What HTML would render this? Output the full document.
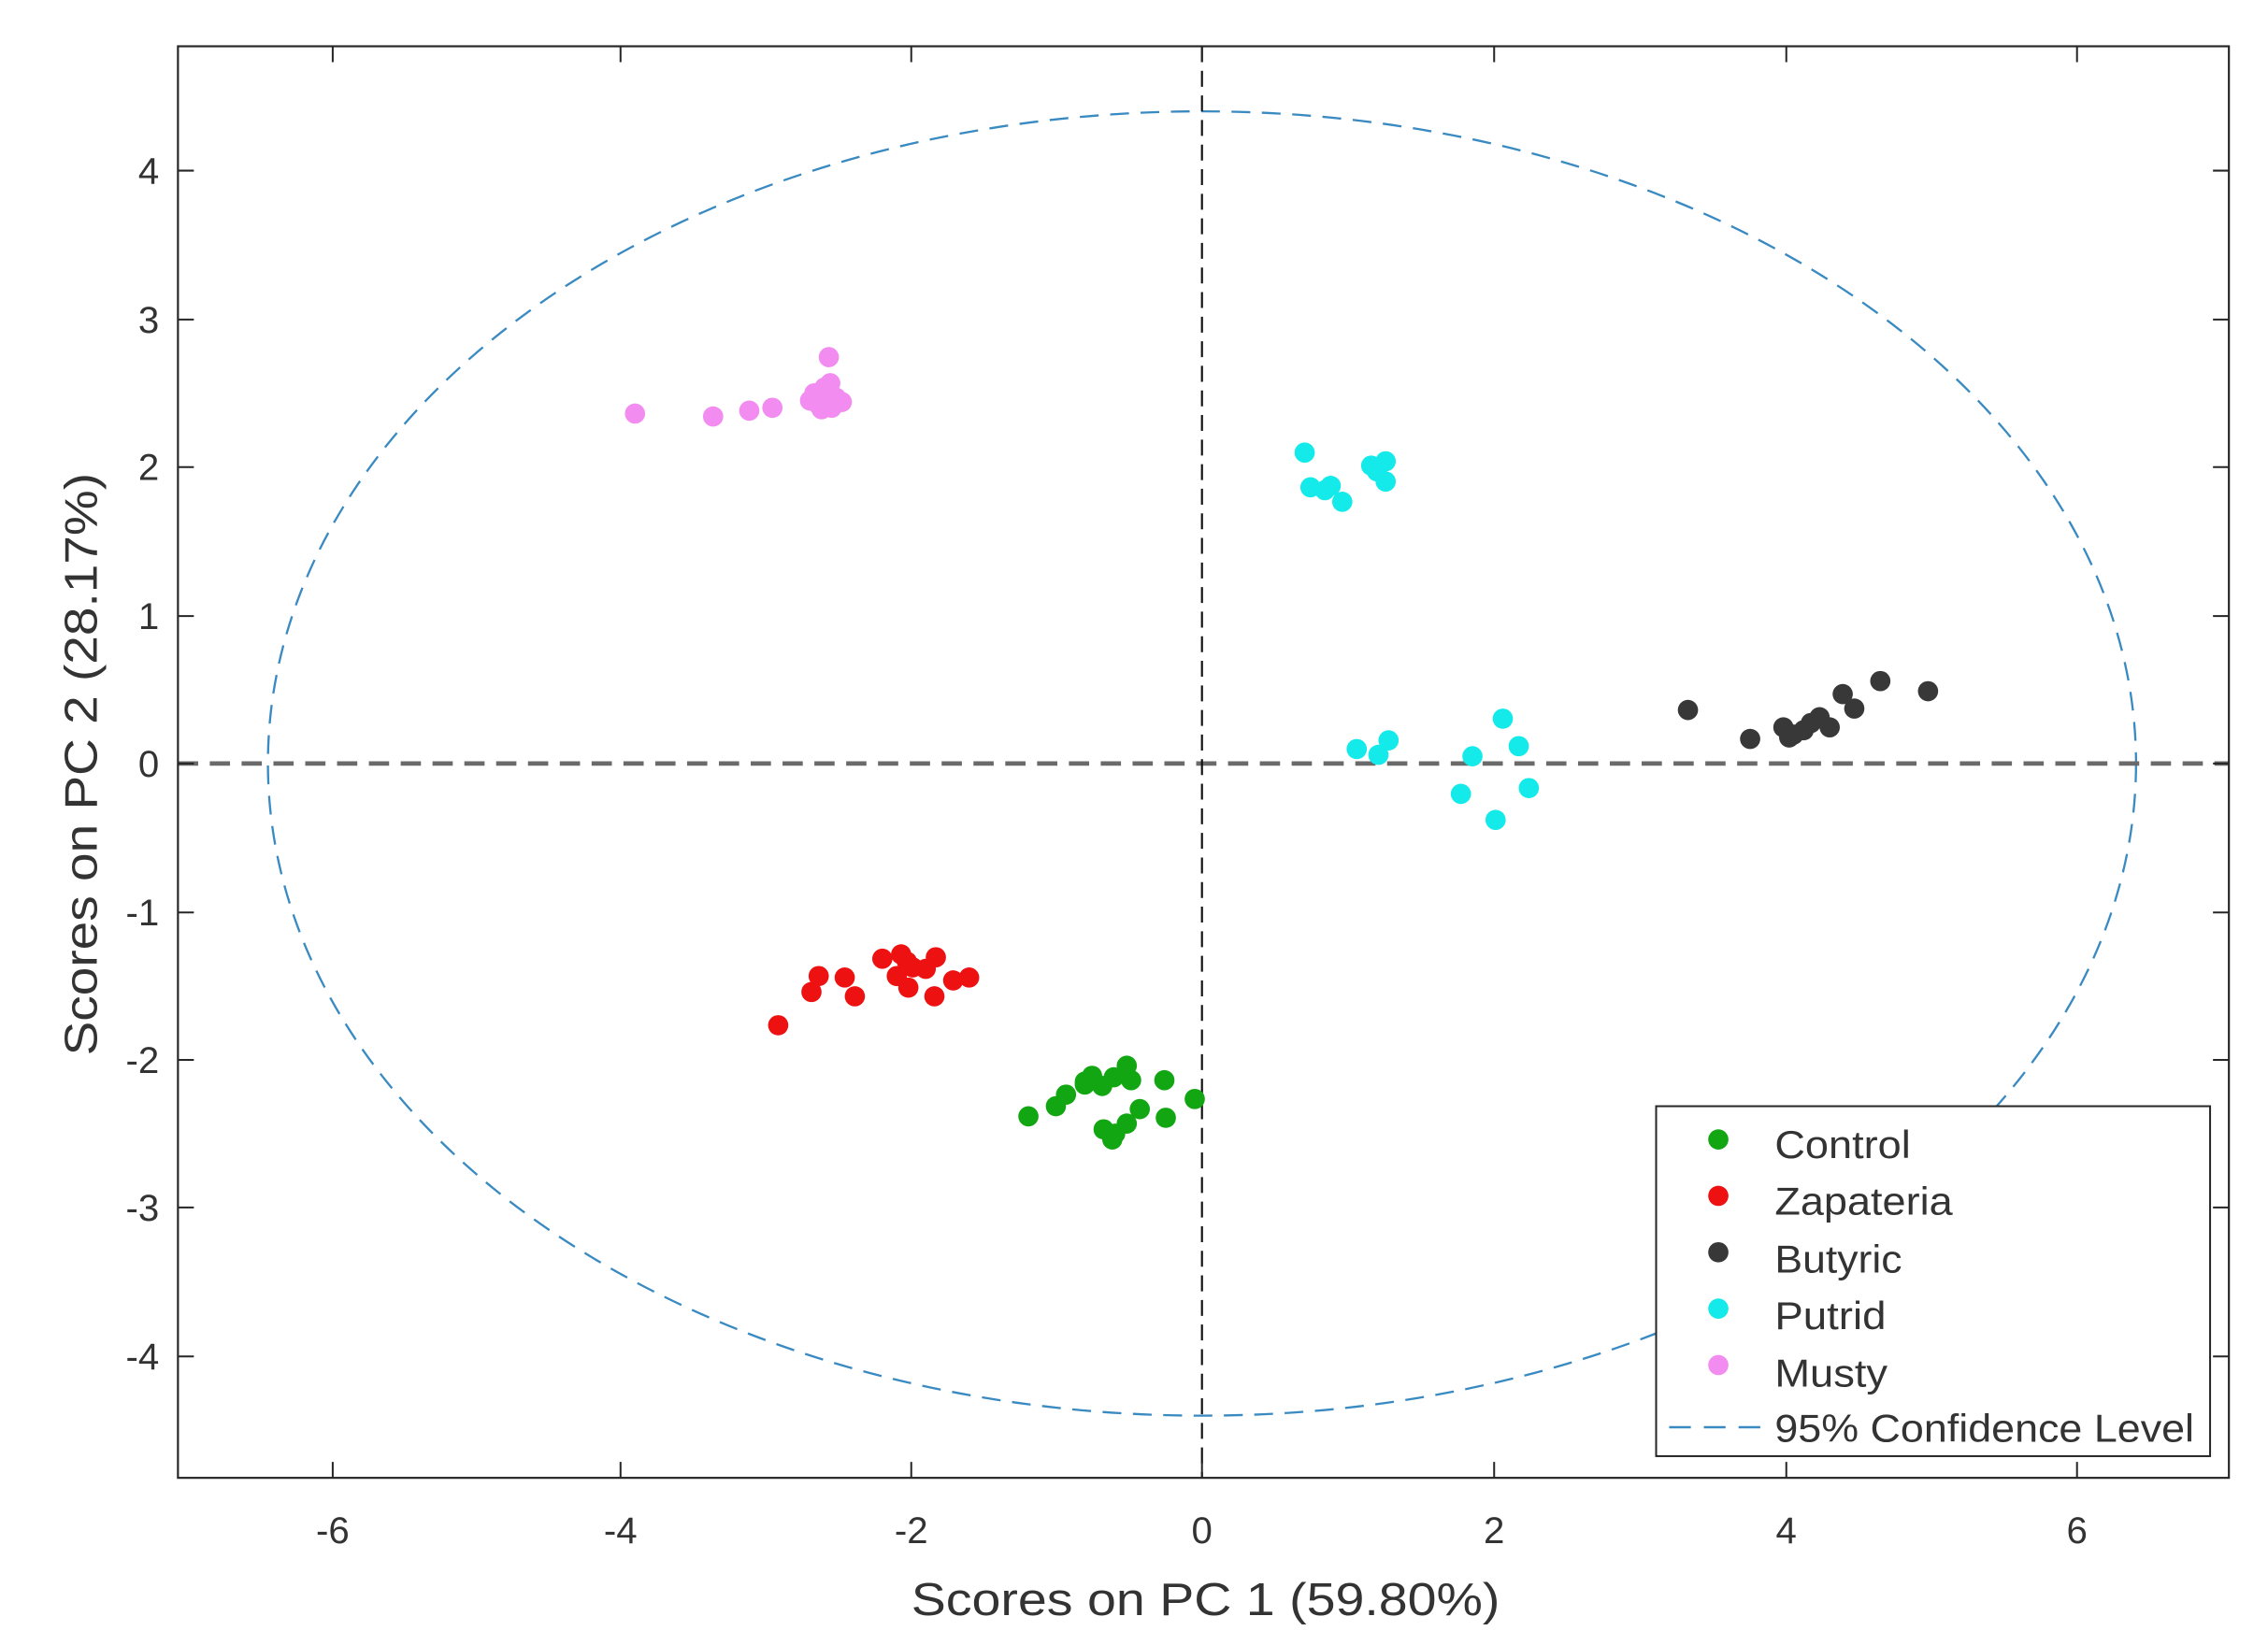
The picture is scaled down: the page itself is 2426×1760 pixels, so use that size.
<!DOCTYPE html>
<html><head><meta charset="utf-8"><style>html,body{margin:0;padding:0;background:#fff}svg{display:block}</style></head>
<body>
<svg width="2426" height="1760" viewBox="0 0 1568 1137.6" xmlns="http://www.w3.org/2000/svg" font-family="Liberation Sans, Arial, sans-serif">
<rect width="1568" height="1137.6" fill="#fff"/>
<ellipse cx="831" cy="528" rx="645.8" ry="451" fill="none" stroke="#3a8ac2" stroke-width="1.5" stroke-dasharray="13 8"/>
<line x1="123" y1="528" x2="1541" y2="528" stroke="#6a6a6a" stroke-width="3" stroke-dasharray="14 8"/>
<line x1="831" y1="32" x2="831" y2="1022" stroke="#111" stroke-width="1.4" stroke-dasharray="11 6"/>
<g fill="#f28cf0">
<circle cx="439" cy="286" r="7"/><circle cx="493" cy="288" r="7"/><circle cx="518" cy="284" r="7"/><circle cx="534" cy="282" r="7"/><circle cx="573" cy="247" r="7"/><circle cx="563" cy="272" r="7"/><circle cx="570" cy="268" r="7"/><circle cx="578" cy="275" r="7"/><circle cx="566" cy="280" r="7"/><circle cx="582" cy="278" r="7"/><circle cx="560" cy="277" r="7"/><circle cx="575" cy="282" r="7"/><circle cx="568" cy="283" r="7"/><circle cx="574" cy="265" r="7"/>
</g>
<g fill="#14eaea">
<circle cx="902" cy="313" r="7"/><circle cx="906" cy="337" r="7"/><circle cx="916" cy="339" r="7"/><circle cx="920" cy="336" r="7"/><circle cx="928" cy="347" r="7"/><circle cx="948" cy="322" r="7"/><circle cx="958" cy="319" r="7"/><circle cx="958" cy="333" r="7"/><circle cx="952" cy="326" r="7"/>
<circle cx="938" cy="518" r="7"/><circle cx="953" cy="522" r="7"/><circle cx="960" cy="512" r="7"/><circle cx="1039" cy="497" r="7"/><circle cx="1050" cy="516" r="7"/><circle cx="1018" cy="523" r="7"/><circle cx="1057" cy="545" r="7"/><circle cx="1010" cy="549" r="7"/><circle cx="1034" cy="567" r="7"/>
</g>
<g fill="#383838">
<circle cx="1167" cy="491" r="7"/><circle cx="1210" cy="511" r="7"/><circle cx="1233" cy="503" r="7"/><circle cx="1240" cy="508" r="7"/><circle cx="1247" cy="505" r="7"/><circle cx="1258" cy="496" r="7"/><circle cx="1265" cy="503" r="7"/><circle cx="1274" cy="480" r="7"/><circle cx="1282" cy="490" r="7"/><circle cx="1300" cy="471" r="7"/><circle cx="1333" cy="478" r="7"/><circle cx="1237" cy="510" r="7"/><circle cx="1252" cy="500" r="7"/>
</g>
<g fill="#ee1111">
<circle cx="538" cy="709" r="7"/><circle cx="561" cy="686" r="7"/><circle cx="566" cy="675" r="7"/><circle cx="584" cy="676" r="7"/><circle cx="591" cy="689" r="7"/><circle cx="610" cy="663" r="7"/><circle cx="623" cy="660" r="7"/><circle cx="628" cy="683" r="7"/><circle cx="631" cy="669" r="7"/><circle cx="640" cy="670" r="7"/><circle cx="647" cy="662" r="7"/><circle cx="646" cy="689" r="7"/><circle cx="659" cy="678" r="7"/><circle cx="670" cy="676" r="7"/><circle cx="627" cy="665" r="7"/><circle cx="620" cy="675" r="7"/>
</g>
<g fill="#12a612">
<circle cx="711" cy="772" r="7"/><circle cx="730" cy="765" r="7"/><circle cx="737" cy="757" r="7"/><circle cx="750" cy="750" r="7"/><circle cx="755" cy="744" r="7"/><circle cx="762" cy="751" r="7"/><circle cx="770" cy="745" r="7"/><circle cx="779" cy="737" r="7"/><circle cx="782" cy="747" r="7"/><circle cx="788" cy="767" r="7"/><circle cx="779" cy="777" r="7"/><circle cx="771" cy="784" r="7"/><circle cx="769" cy="788" r="7"/><circle cx="763" cy="781" r="7"/><circle cx="805" cy="747" r="7"/><circle cx="806" cy="773" r="7"/><circle cx="826" cy="760" r="7"/><circle cx="750" cy="748" r="7"/>
</g>
<rect x="123" y="32" width="1418" height="990" fill="none" stroke="#262626" stroke-width="1.4"/>
<g stroke="#262626" stroke-width="1.3">
<path d="M230 1022v-11M429 1022v-11M630 1022v-11M831 1022v-11M1033 1022v-11M1235 1022v-11M1436 1022v-11"/>
<path d="M230 32v11M429 32v11M630 32v11M831 32v11M1033 32v11M1235 32v11M1436 32v11"/>
<path d="M123 118h11M123 221h11M123 323h11M123 426h11M123 528h11M123 631h11M123 733h11M123 835h11M123 938h11"/>
<path d="M1541 118h-11M1541 221h-11M1541 323h-11M1541 426h-11M1541 528h-11M1541 631h-11M1541 733h-11M1541 835h-11M1541 938h-11"/>
</g>
<g font-size="26" fill="#333" text-anchor="middle">
<text x="230" y="1067">-6</text><text x="429" y="1067">-4</text><text x="630" y="1067">-2</text><text x="831" y="1067">0</text><text x="1033" y="1067">2</text><text x="1235" y="1067">4</text><text x="1436" y="1067">6</text>
</g>
<g font-size="26" fill="#333" text-anchor="end">
<text x="110" y="127">4</text><text x="110" y="230">3</text><text x="110" y="332">2</text><text x="110" y="435">1</text><text x="110" y="537">0</text><text x="110" y="640">-1</text><text x="110" y="742">-2</text><text x="110" y="844">-3</text><text x="110" y="947">-4</text>
</g>
<text x="630" y="1117" font-size="32" fill="#333" textLength="407" lengthAdjust="spacingAndGlyphs">Scores on PC 1 (59.80%)</text>
<text transform="translate(67,730) rotate(-90)" font-size="32" fill="#333" textLength="403" lengthAdjust="spacingAndGlyphs">Scores on PC 2 (28.17%)</text>
<rect x="1145" y="765" width="383" height="242" fill="#fff" stroke="#262626" stroke-width="1.3"/>
<circle cx="1188" cy="788" r="7" fill="#12a612"/>
<circle cx="1188" cy="827" r="7" fill="#ee1111"/>
<circle cx="1188" cy="866" r="7" fill="#383838"/>
<circle cx="1188" cy="905" r="7" fill="#14eaea"/>
<circle cx="1188" cy="944" r="7" fill="#f28cf0"/>
<line x1="1154" y1="987" x2="1218" y2="987" stroke="#3a8ac2" stroke-width="1.6" stroke-dasharray="15 9"/>
<g font-size="27" fill="#333">
<text x="1227" y="801" textLength="94" lengthAdjust="spacingAndGlyphs">Control</text>
<text x="1227" y="840" textLength="123" lengthAdjust="spacingAndGlyphs">Zapateria</text>
<text x="1227" y="880" textLength="88" lengthAdjust="spacingAndGlyphs">Butyric</text>
<text x="1227" y="919" textLength="77" lengthAdjust="spacingAndGlyphs">Putrid</text>
<text x="1227" y="959" textLength="78" lengthAdjust="spacingAndGlyphs">Musty</text>
<text x="1227" y="997" textLength="290" lengthAdjust="spacingAndGlyphs">95% Confidence Level</text>
</g>
</svg>
</body></html>
